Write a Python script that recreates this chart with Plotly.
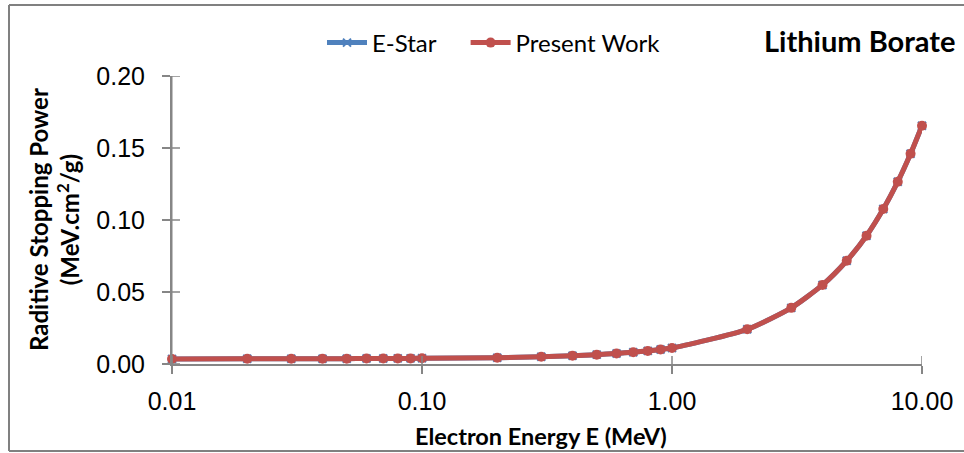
import plotly.graph_objects as go

# Electron energies (MeV)
energy = [0.01, 0.02, 0.03, 0.04, 0.05, 0.06, 0.07, 0.08, 0.09, 0.1,
          0.2, 0.3, 0.4, 0.5, 0.6, 0.7, 0.8, 0.9, 1.0,
          2.0, 3.0, 4.0, 5.0, 6.0, 7.0, 8.0, 9.0, 10.0]

# Radiative stopping power (MeV.cm2/g)
estar = [0.0035, 0.0036, 0.0036, 0.0037, 0.0037, 0.0038, 0.0038, 0.0039, 0.0039, 0.0040,
         0.0043, 0.0050, 0.0057, 0.0065, 0.0073, 0.0082, 0.0091, 0.0101, 0.0111,
         0.0241, 0.0390, 0.0549, 0.0717, 0.0891, 0.1076, 0.1266, 0.1460, 0.1655]
present = [0.0035, 0.0036, 0.0036, 0.0037, 0.0037, 0.0038, 0.0038, 0.0039, 0.0039, 0.0040,
           0.0043, 0.0050, 0.0057, 0.0065, 0.0073, 0.0082, 0.0091, 0.0101, 0.0111,
           0.0241, 0.0390, 0.0549, 0.0717, 0.0891, 0.1076, 0.1266, 0.1460, 0.1655]

x_ticks = [0.01, 0.1, 1, 10]
x_tick_text = ["0.01", "0.10", "1.00", "10.00"]
y_ticks = [0, 0.05, 0.10, 0.15, 0.20]
y_tick_text = ["0.00", "0.05", "0.10", "0.15", "0.20"]

BLUE = "#4F81BD"
RED = "#C0504D"
AXIS = "#868686"
FRAME = "#808080"
LABEL_FONT = "Lato"
TICK_FONT = "Liberation Sans"
TICK_LEN = 8
NBSP = "\u00a0"

fig = go.Figure()
fig.add_trace(go.Scatter(
    x=energy, y=estar, name="E-Star" + NBSP * 4, mode="lines+markers", cliponaxis=False,
    line=dict(color=BLUE, width=5, shape="spline", smoothing=0.6),
    marker=dict(symbol="x-thin", size=8, color=BLUE, line=dict(color=BLUE, width=2)),
))
fig.add_trace(go.Scatter(
    x=energy, y=present, name="Present Work", mode="lines+markers", cliponaxis=False,
    line=dict(color=RED, width=5, shape="spline", smoothing=0.6),
    marker=dict(symbol="circle", size=10, color=RED),
))

L, R, T, B = 172, 42, 76, 89
W, H = 964, 453
pw, ph = W - L - R, H - T - B

def px(xp):
    return (xp - L) / pw

def py(yp):
    return (H - B - yp) / ph

axis_common = dict(showgrid=False, zeroline=False, ticks="outside", ticklen=TICK_LEN,
                   tickcolor=AXIS, tickwidth=1.5, showline=True, linecolor=AXIS,
                   linewidth=2, tickfont=dict(family=TICK_FONT, size=25, color="#000"))

fig.update_layout(
    width=W, height=H,
    margin=dict(l=L, r=R, t=T, b=B),
    paper_bgcolor="white", plot_bgcolor="white",
    showlegend=True,
    legend=dict(orientation="h", x=px(322), y=py(43), xanchor="left", yanchor="middle",
                font=dict(family=LABEL_FONT, size=24, color="#000"),
                bgcolor="rgba(0,0,0,0)", itemwidth=40, tracegroupgap=0),
    xaxis=dict(type="log", range=[-2, 1], tickvals=x_ticks, ticktext=x_tick_text,
               ticklabelstandoff=6, **axis_common),
    yaxis=dict(range=[0, 0.2], tickvals=y_ticks, ticktext=y_tick_text,
               ticklabelstandoff=12, **axis_common),
)

# vertical axis line, drawn again above the plot layer
fig.add_shape(type="line", xref="paper", yref="paper", x0=px(171.5), x1=px(171.5),
              y0=0, y1=1, line=dict(color=AXIS, width=2), layer="above")

# inner halves of the crossing tick marks
for tv in x_ticks:
    fig.add_shape(type="line", xref="x", yref="paper", x0=tv, x1=tv, y0=0, y1=TICK_LEN / ph,
                  line=dict(color=AXIS, width=1.5))
for tv in y_ticks:
    fig.add_shape(type="line", xref="paper", yref="y", x0=0, x1=TICK_LEN / pw, y0=tv, y1=tv,
                  line=dict(color=AXIS, width=1.5))

fig.add_annotation(
    text="<b>Electron Energy E (MeV)</b>", xref="paper", yref="paper",
    x=px(541), y=py(436), xanchor="center", yanchor="middle", showarrow=False,
    font=dict(family=LABEL_FONT, size=23.5, color="#000"),
)
fig.add_annotation(
    text="<b>Raditive Stopping Power<br>(MeV.cm<sup>2</sup>/g)</b>", xref="paper", yref="paper",
    x=px(54), y=py(220), xanchor="center", yanchor="middle", showarrow=False, textangle=-90,
    font=dict(family=LABEL_FONT, size=24, color="#000"),
)
fig.add_annotation(
    text="<b>Lithium Borate</b>", xref="paper", yref="paper",
    x=px(958), y=py(40), xanchor="right", yanchor="middle", showarrow=False,
    font=dict(family=LABEL_FONT, size=29, color="#000"),
)

# chart frame: left, top and bottom edges (right edge lies beyond the page)
frame = dict(color=FRAME, width=2)
fig.add_shape(type="line", xref="paper", yref="paper", x0=px(9), x1=px(9),
              y0=py(451), y1=py(5), line=frame)
fig.add_shape(type="line", xref="paper", yref="paper", x0=px(9), x1=px(W),
              y0=py(5), y1=py(5), line=frame)
fig.add_shape(type="line", xref="paper", yref="paper", x0=px(9), x1=px(W),
              y0=py(451), y1=py(451), line=frame)

fig.write_html("out.html")
